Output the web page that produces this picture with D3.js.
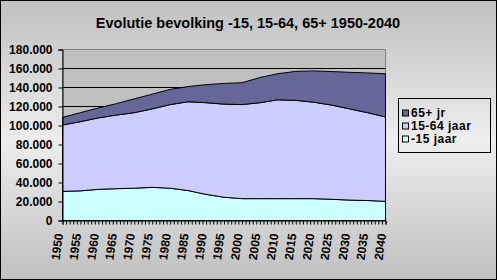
<!DOCTYPE html>
<html>
<head>
<meta charset="utf-8">
<script src="https://cdnjs.cloudflare.com/ajax/libs/d3/7.8.5/d3.min.js"></script>
<style>
  body { margin: 0; padding: 0; background: #fff; }
  text { font-family: "Liberation Sans", Arial, sans-serif; font-weight: bold; }
</style>
</head>
<body>
<script>
// data (per 5 years)
var years = [1950, 1955, 1960, 1965, 1970, 1975, 1980, 1985, 1990, 1995,
             2000, 2005, 2010, 2015, 2020, 2025, 2030, 2035, 2040]
var young = [30700, 31200, 32800, 33500, 34000, 34900, 34000, 31500, 27500, 24500,
             23000, 23000, 23000, 23000, 23000, 22300, 21500, 21000, 20200]
var adult = [69800, 72800, 75200, 77500, 79500, 82600, 88000, 93500, 96500, 98000,
             99000, 101000, 104000, 103500, 101500, 99200, 96000, 92500, 88800]
var old = [8100, 9500, 10500, 12000, 14500, 15500, 16000, 16000, 19000, 21800,
           23000, 26500, 27500, 30500, 33000, 35300, 38500, 41800, 45500]

var seriesKeys = ["young", "adult", "old"]
var seriesNames = ["-15 jaar", "15-64 jaar", "65+ jr"]
var seriesColors = ["#ccffff", "#ccccff", "#666699"]
var yTicks = [0, 20000, 40000, 60000, 80000, 100000, 120000, 140000, 160000, 180000]
var title = "Evolutie bevolking -15, 15-64, 65+ 1950-2040"

var width = 497, height = 280

var rows = years.map(function(y, i) {
  return { year: y, young: young[i], adult: adult[i], old: old[i] }
})

var svg = d3.select("body")
  .append("svg")
  .attr("width", width)
  .attr("height", height)

// background gradient
var grad = svg.append("defs")
  .append("linearGradient")
  .attr("id", "bg")
  .attr("x1", 0).attr("y1", 0)
  .attr("x2", 0).attr("y2", 1)
grad.append("stop").attr("offset", "0%").attr("stop-color", "#c0c0c0")
grad.append("stop").attr("offset", "50%").attr("stop-color", "#ededed")
grad.append("stop").attr("offset", "100%").attr("stop-color", "#c0c0c0")

svg.append("rect")
  .attr("x", 0.5).attr("y", 0.5)
  .attr("width", width - 1).attr("height", height - 1)
  .attr("fill", "url(#bg)")
  .attr("stroke", "#000")

var x = d3.scaleLinear().domain([1950, 2040]).range([62.5, 385.5])
var y = d3.scaleLinear().domain([0, 180000]).range([220.5, 49.5])

// plot area
svg.append("rect")
  .attr("x", x(1950)).attr("y", y(180000))
  .attr("width", x(2040) - x(1950)).attr("height", y(0) - y(180000))
  .attr("fill", "#c0c0c0")
  .attr("stroke", "#808080")

svg.append("g")
  .selectAll("line")
  .data(yTicks.filter(function(d) { return d > 0 && d < 180000 }))
  .enter()
  .append("line")
  .attr("x1", x(1950)).attr("x2", x(2040))
  .attr("y1", function(d) { return y(d) })
  .attr("y2", function(d) { return y(d) })
  .attr("stroke", "#000")

var stack = d3.stack().keys(seriesKeys)
var layers = stack(rows)

var area = d3.area()
  .x(function(d) { return x(d.data.year) })
  .y0(function(d) { return y(d[0]) })
  .y1(function(d) { return y(d[1]) })

svg.append("g")
  .selectAll("path")
  .data(layers)
  .enter()
  .append("path")
  .attr("d", area)
  .attr("fill", function(d, i) { return seriesColors[i] })
  .attr("stroke", "#000")
  .attr("stroke-width", 1)

// y axis
var yAxis = d3.axisLeft(y)
  .tickValues(yTicks)
  .tickSize(4)
  .tickPadding(6)
  .tickFormat(function(d) { return d3.format(",")(d).replace(/,/g, ".") })

var gy = svg.append("g")
  .attr("transform", "translate(" + x(1950) + ",0)")
  .call(yAxis)
gy.selectAll("text").attr("font-size", 12).attr("fill", "#000")
gy.selectAll("line").attr("stroke", "#000")
gy.select(".domain").attr("stroke", "#000")

// x axis, a tick per year, a label per 5 years
var xAxis = d3.axisBottom(x)
  .tickValues(d3.range(1950, 2041))
  .tickSize(4)
  .tickFormat(function(d) { return d % 5 === 0 ? d : "" })

var gx = svg.append("g")
  .attr("transform", "translate(0," + y(0) + ")")
  .call(xAxis)
gx.selectAll("line").attr("stroke", "#000")
gx.select(".domain").attr("stroke", "#000")
gx.selectAll("text")
  .attr("font-size", 12)
  .attr("fill", "#000")
  .attr("text-anchor", "end")
  .attr("dy", "0.35em")
  .attr("transform", "translate(-4,13) rotate(-82)")
  .attr("x", 0).attr("y", 0)

// title
svg.append("text")
  .attr("x", 248)
  .attr("y", 28)
  .attr("text-anchor", "middle")
  .attr("font-size", 14.5)
  .text(title)

// legend
var legend = svg.append("g")
legend.append("rect")
  .attr("x", 398.5).attr("y", 98.5)
  .attr("width", 92).attr("height", 54)
  .attr("fill", "none")
  .attr("stroke", "#000")

var items = legend.selectAll("g.item")
  .data([2, 1, 0])
  .enter()
  .append("g")
  .attr("class", "item")
  .attr("transform", function(d, i) { return "translate(402," + (109.5 + i * 13) + ")" })

items.append("rect")
  .attr("x", 0.5).attr("y", 0.5)
  .attr("width", 6).attr("height", 6)
  .attr("fill", function(d) { return seriesColors[d] })
  .attr("stroke", "#000")

items.append("text")
  .attr("x", 9)
  .attr("y", 7)
  .attr("font-size", 12)
  .attr("letter-spacing", 0.5)
  .text(function(d) { return seriesNames[d] })
</script>
</body>
</html>
